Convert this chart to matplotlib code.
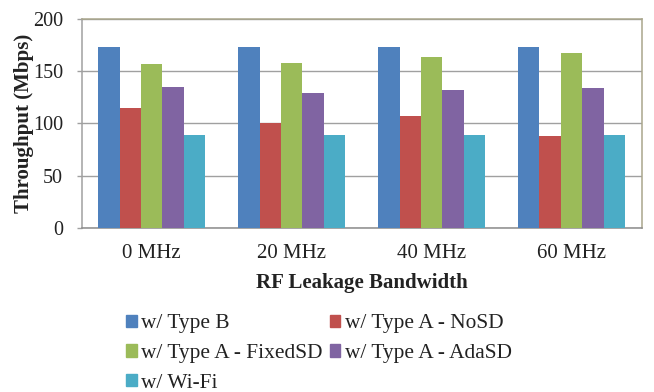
import matplotlib
matplotlib.use("Agg")
import matplotlib.pyplot as plt
import numpy as np
from matplotlib.patches import Patch

plt.rcParams['font.family'] = ['Liberation Serif', 'DejaVu Serif']

categories = ["0 MHz", "20 MHz", "40 MHz", "60 MHz"]
series_names = ["w/ Type B", "w/ Type A - NoSD", "w/ Type A - FixedSD", "w/ Type A - AdaSD", "w/ Wi-Fi"]
type_b = [173, 173, 173, 173]
nosd = [115, 100, 107.5, 88]
fixedsd = [157, 158, 164, 167]
adasd = [135, 129.5, 132, 133.5]
wifi = [88.5, 88.5, 88.5, 88.5]
colors = ["#4F81BD", "#C0504D", "#9BBB59", "#8064A2", "#4BACC6"]

data = [type_b, nosd, fixedsd, adasd, wifi]

fig = plt.figure(figsize=(6.54, 3.92), dpi=100)
ax = fig.add_axes([0.125, 0.419, 0.856, 0.5325])

x = np.arange(len(categories))
w = 0.153
for i, (vals, c) in enumerate(zip(data, colors)):
    ax.bar(x + (i - 2) * w, vals, w, color=c, zorder=3)

ax.set_xlim(-0.5, len(categories) - 0.5)
ax.set_ylim(0, 200)
ax.set_yticks([0, 50, 100, 150, 200])
ax.set_xticks(x)
ax.set_xticklabels(categories)
ax.yaxis.grid(True, color="#A0A0A0", linewidth=1, zorder=0)
ax.spines['top'].set_color('#A9A68C')
ax.spines['right'].set_color('#A9A68C')
ax.spines['left'].set_color('#A0A0A0')
ax.spines['bottom'].set_color('#8C8C8C')
for s in ax.spines.values():
    s.set_linewidth(1.1)
ax.tick_params(axis='y', labelsize=14.5, length=3.6, width=1, color='#A0A0A0', pad=10, labelcolor='#222222')
ax.tick_params(axis='x', labelsize=15, length=0, pad=12, labelcolor='#222222')
ax.set_ylabel("Throughput (Mbps)", fontsize=15, fontweight='bold', color='#222222', labelpad=-1)
ax.set_xlabel("RF Leakage Bandwidth", fontsize=15, fontweight='bold', color='#222222', labelpad=7)

order = [0, 2, 4, 1, 3]
handles = [Patch(color=colors[i]) for i in order]
labels = [series_names[i] for i in order]
fig.legend(handles, labels, ncol=2, loc='upper left', bbox_to_anchor=(0.193, 0.198),
           frameon=False, fontsize=15.4, handlelength=0.5, handleheight=0.5,
           handletextpad=0.2, columnspacing=0.33, labelspacing=0.5, borderaxespad=0,
           borderpad=0, labelcolor='#222222')

fig.savefig("out.png", dpi=100)
